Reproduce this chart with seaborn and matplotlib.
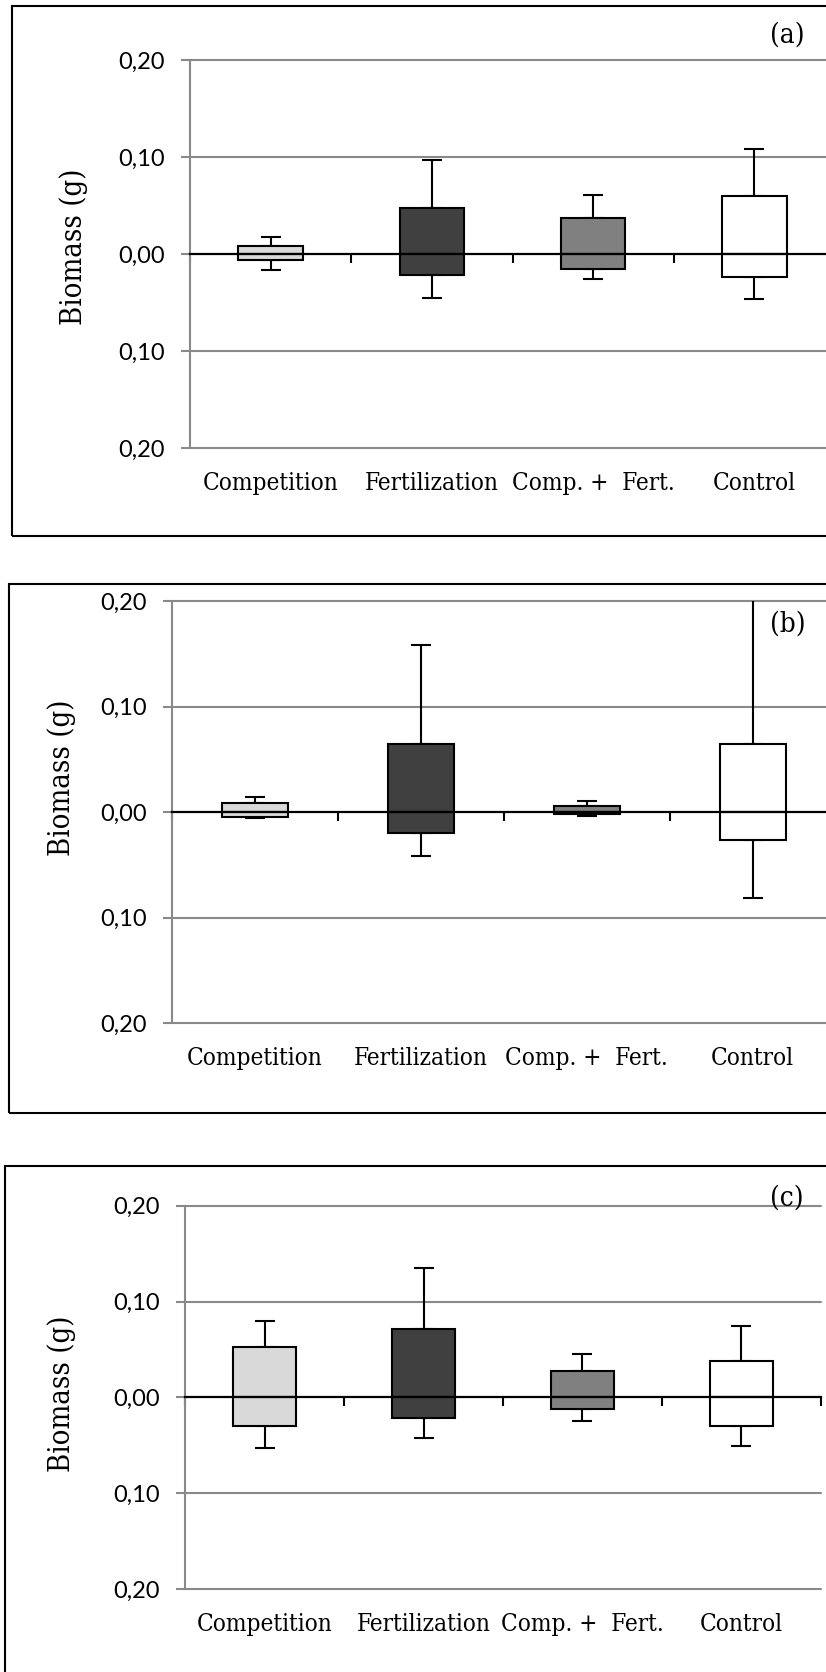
import matplotlib
matplotlib.use("Agg")
import matplotlib.pyplot as plt
from matplotlib.patches import Rectangle
import numpy as np
import seaborn as sns

# Treatments and fill colours
categories = ["Competition", "Fertilization", "Comp. +  Fert.", "Control"]
bar_colors = ["#d9d9d9", "#404040", "#808080", "#ffffff"]

# Y axis ticks (absolute values shown, comma decimal)
y_ticks = [-0.2, -0.1, 0.0, 0.1, 0.2]
y_tick_labels = ["0,20", "0,10", "0,00", "0,10", "0,20"]

# Panel (a)
a_upper = [0.0085, 0.047, 0.037, 0.0595]
a_lower = [-0.0066, -0.022, -0.0156, -0.024]
a_whisk_hi = [0.018, 0.097, 0.061, 0.108]
a_whisk_lo = [-0.0166, -0.0453, -0.0258, -0.046]

# Panel (b)
b_upper = [0.0083, 0.0646, 0.0053, 0.0646]
b_lower = [-0.0043, -0.0195, -0.0023, -0.0268]
b_whisk_hi = [0.0139, 0.158, 0.0103, 0.215]
b_whisk_lo = [-0.006, -0.042, -0.004, -0.0815]

# Panel (c)
c_upper = [0.0524, 0.071, 0.0273, 0.0378]
c_lower = [-0.0297, -0.0217, -0.0122, -0.0297]
c_whisk_hi = [0.0794, 0.135, 0.0455, 0.0748]
c_whisk_lo = [-0.0528, -0.0423, -0.0245, -0.051]

W, H = 826, 1672
sns.set_style("white")
plt.rcParams["font.family"] = ["DejaVu Serif"]
plt.rcParams["text.color"] = "black"
plt.rcParams["xtick.labelcolor"] = "black"
plt.rcParams["ytick.labelcolor"] = "black"

fig = plt.figure(figsize=(W / 100, H / 100), dpi=100)

GRID = "#898989"
SERIF = "DejaVu Serif"
SANS = "Lato"


def fx(x):
    return x / W


def fy(y):
    return 1 - y / H


def panel(rect_px, frame_px, upper, lower, hi, lo, tag, tag_xy, ylab_xy):
    left, top, right, bottom = rect_px
    ax = fig.add_axes([fx(left), fy(bottom), (right - left) / W, (bottom - top) / H])

    # boxes: positive part and negative part both drawn from zero
    sns.barplot(x=categories, y=upper, hue=categories, palette=bar_colors,
                width=0.4, edgecolor="black", linewidth=1.5, saturation=1,
                legend=False, ax=ax, zorder=3)
    sns.barplot(x=categories, y=lower, hue=categories, palette=bar_colors,
                width=0.4, edgecolor="black", linewidth=1.5, saturation=1,
                legend=False, ax=ax, zorder=3)

    xs = np.arange(len(categories))
    up = np.array(upper)
    dn = np.array(lower)
    zeros = np.zeros(len(categories))
    ax.errorbar(xs, up, yerr=[zeros, np.array(hi) - up], fmt="none",
                ecolor="black", elinewidth=1.5, capsize=7.5, capthick=1.5, zorder=2)
    ax.errorbar(xs, dn, yerr=[dn - np.array(lo), zeros], fmt="none",
                ecolor="black", elinewidth=1.5, capsize=7.5, capthick=1.5, zorder=2)

    ax.set_xlim(-0.5, len(categories) - 0.5)
    ax.set_ylim(-0.2, 0.2)

    # horizontal gridlines
    for t in y_ticks:
        if t != 0:
            ax.axhline(t, color=GRID, lw=1.5, zorder=0, clip_on=False)

    # y axis
    ax.set_yticks(y_ticks)
    ax.set_yticklabels(y_tick_labels, family=SANS, fontsize=17, color="black")
    ax.tick_params(axis="y", direction="out", length=6.2, width=1.5,
                   color=GRID, pad=12, left=True)
    ax.spines["left"].set_color(GRID)
    ax.spines["left"].set_linewidth(1.5)
    ax.spines["top"].set_visible(False)
    ax.spines["right"].set_visible(False)

    # zero line with category boundary ticks
    ax.spines["bottom"].set_position(("data", 0))
    ax.spines["bottom"].set_color("black")
    ax.spines["bottom"].set_linewidth(1.6)
    ax.spines["bottom"].set_zorder(4)
    ax.set_xticks(np.arange(-0.5, len(categories), 1.0))
    ax.set_xticklabels([])
    ax.tick_params(axis="x", direction="out", length=6.3, width=1.5,
                   color="black", bottom=True)

    # category names below the plot area
    sec = ax.secondary_xaxis("bottom")
    sec.set_xticks(xs)
    sec.set_xticklabels(categories, family=SERIF, fontsize=17.5,
                        fontstretch="condensed", color="black")
    sec.tick_params(length=0, pad=17)
    sec.spines["bottom"].set_visible(False)

    ax.set_xlabel("")
    ax.set_ylabel("")
    ax.patch.set_alpha(0)

    fig.text(fx(ylab_xy[0]), fy(ylab_xy[1]), "Biomass (g)", rotation=90,
             ha="center", va="center", family=SERIF, fontsize=21,
             fontstretch="condensed", color="black")
    fig.text(fx(tag_xy[0]), fy(tag_xy[1]), tag, ha="center", va="center",
             family=SERIF, fontsize=20, fontstretch="condensed", color="black")

    fl, ft, fr, fb = frame_px
    fig.patches.append(Rectangle((fx(fl), fy(fb)), (fr - fl) / W, (fb - ft) / H,
                                 transform=fig.transFigure, fill=False,
                                 edgecolor="black", lw=1.5, zorder=10))
    return ax


panel((190, 60, 835, 448), (11.7, 5.7, 845, 535.7),
      a_upper, a_lower, a_whisk_hi, a_whisk_lo, "(a)", (787, 35.5), (74, 246.5))
panel((172, 601, 835.7, 1023), (9.3, 584, 845, 1112.7),
      b_upper, b_lower, b_whisk_hi, b_whisk_lo, "(b)", (788, 624), (62, 778))
panel((185.3, 1205.7, 820.7, 1589), (5, 1166, 845, 1690),
      c_upper, c_lower, c_whisk_hi, c_whisk_lo, "(c)", (787, 1198), (62, 1394))

fig.savefig("out.png", dpi=100)
